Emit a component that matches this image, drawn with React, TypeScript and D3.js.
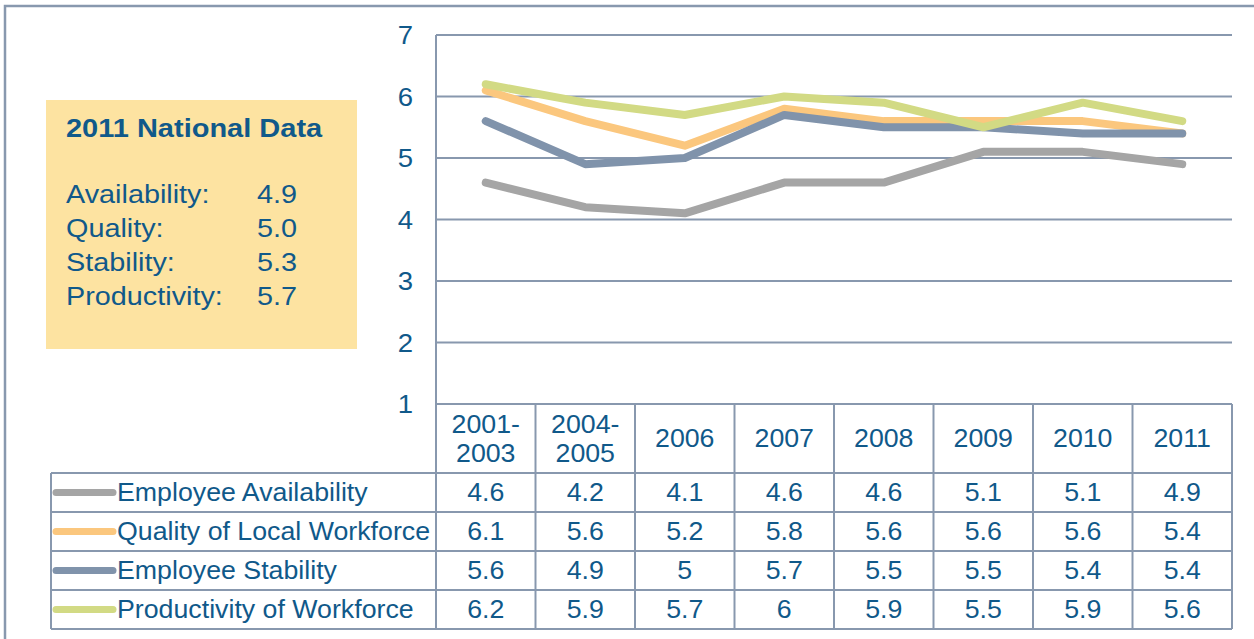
import React from "react";
import * as d3 from "d3";

const categories = [["2001-", "2003"], ["2004-", "2005"], ["2006"], ["2007"], ["2008"], ["2009"], ["2010"], ["2011"]];
const seriesNames = ["Employee Availability", "Quality of Local Workforce", "Employee Stability", "Productivity of Workforce"];
const availability = [4.6, 4.2, 4.1, 4.6, 4.6, 5.1, 5.1, 4.9];
const quality = [6.1, 5.6, 5.2, 5.8, 5.6, 5.6, 5.6, 5.4];
const stability = [5.6, 4.9, 5, 5.7, 5.5, 5.5, 5.4, 5.4];
const productivity = [6.2, 5.9, 5.7, 6, 5.9, 5.5, 5.9, 5.6];
const seriesColors = ["#A5A5A5", "#FBC77E", "#8093AB", "#D2DA84"];
const yTicks = [1, 2, 3, 4, 5, 6, 7];
const nationalLabels = ["Availability:", "Quality:", "Stability:", "Productivity:"];
const nationalValues = ["4.9", "5.0", "5.3", "5.7"];

const TEXT = "#10598A";
const GRID = "#8898AE";
const FONT = "'Liberation Sans', Arial, sans-serif";

function T(props: { x: number; y: number; size: number; sx: number; anchor?: string; bold?: boolean; children: React.ReactNode }) {
  return (
    <text
      transform={`translate(${props.x},${props.y}) scale(${props.sx},1)`}
      textAnchor={props.anchor || "start"}
      fontSize={props.size}
      fontWeight={props.bold ? "bold" : "normal"}
      fill={TEXT}
    >
      {props.children}
    </text>
  );
}

export default function App() {
  const series = [availability, quality, stability, productivity];
  const left = 436, right = 1232, top = 35, bottom = 404;
  const x = d3.scaleBand<number>().domain(d3.range(categories.length)).range([left, right]);
  const y = d3.scaleLinear().domain([1, 7]).range([bottom, top]);
  const line = d3.line<number>().x((_, i) => (x(i) as number) + x.bandwidth() / 2).y(d => y(d));
  const headerBottom = 473;
  const rowH = 39;
  const legendLeft = 51;
  const fs = 25;
  const sx = 1.07;

  return (
    <svg width={1254} height={639} style={{ position: "absolute", left: 0, top: 0, background: "#fff" }} fontFamily={FONT}>
      <rect x={0} y={0} width={1254} height={639} fill="#fff" />
      <rect x={5} y={6} width={1300} height={700} fill="none" stroke={GRID} strokeWidth={2.5} />

      {/* grid */}
      {yTicks.map(t => (
        <line key={t} x1={left} x2={right} y1={y(t)} y2={y(t)} stroke={GRID} strokeWidth={2} />
      ))}
      <line x1={left} x2={left} y1={top} y2={bottom} stroke={GRID} strokeWidth={2} />
      {yTicks.map(t => (
        <T key={t} x={413} y={y(t) + 9} anchor="end" size={25} sx={1.1}>{t}</T>
      ))}

      {/* national data box */}
      <rect x={46} y={100} width={311} height={249} fill="#FDE3A1" />
      <T x={66} y={137} size={25} sx={1.16} bold>2011 National Data</T>
      {nationalLabels.map((l, i) => (
        <g key={l}>
          <T x={66} y={203 + i * 34} size={25.5} sx={1.13}>{l}</T>
          <T x={257} y={203 + i * 34} size={25.5} sx={1.13}>{nationalValues[i]}</T>
        </g>
      ))}

      {/* lines */}
      {series.map((s, k) => (
        <path key={k} d={line(s) as string} fill="none" stroke={seriesColors[k]} strokeWidth={8} strokeLinecap="round" strokeLinejoin="round" />
      ))}

      {/* table */}
      {d3.range(categories.length + 1).map(i => {
        const xx = i < categories.length ? (x(i) as number) : right;
        return <line key={"v" + i} x1={xx} x2={xx} y1={bottom} y2={headerBottom + rowH * 4} stroke={GRID} strokeWidth={2} />;
      })}
      <line x1={legendLeft} x2={legendLeft} y1={headerBottom} y2={headerBottom + rowH * 4} stroke={GRID} strokeWidth={2} />
      {d3.range(5).map(r => (
        <line key={"h" + r} x1={legendLeft} x2={right} y1={headerBottom + r * rowH} y2={headerBottom + r * rowH} stroke={GRID} strokeWidth={2} />
      ))}
      {categories.map((c, i) => {
        const cx = (x(i) as number) + x.bandwidth() / 2;
        return c.length === 2 ? (
          <g key={i}>
            <T x={cx} y={433} anchor="middle" size={fs} sx={sx}>{c[0]}</T>
            <T x={cx} y={462} anchor="middle" size={fs} sx={sx}>{c[1]}</T>
          </g>
        ) : (
          <T key={i} x={cx} y={447} anchor="middle" size={fs} sx={sx}>{c[0]}</T>
        );
      })}
      {series.map((s, k) => {
        const cy = headerBottom + k * rowH + rowH / 2;
        return (
          <g key={"r" + k}>
            <line x1={56} x2={113} y1={cy} y2={cy} stroke={seriesColors[k]} strokeWidth={7} strokeLinecap="round" />
            <T x={117} y={cy + 8.5} size={fs} sx={sx}>{seriesNames[k]}</T>
            {s.map((v, i) => (
              <T key={i} x={(x(i) as number) + x.bandwidth() / 2} y={cy + 8.5} anchor="middle" size={fs} sx={sx}>{String(v)}</T>
            ))}
          </g>
        );
      })}
    </svg>
  );
}
